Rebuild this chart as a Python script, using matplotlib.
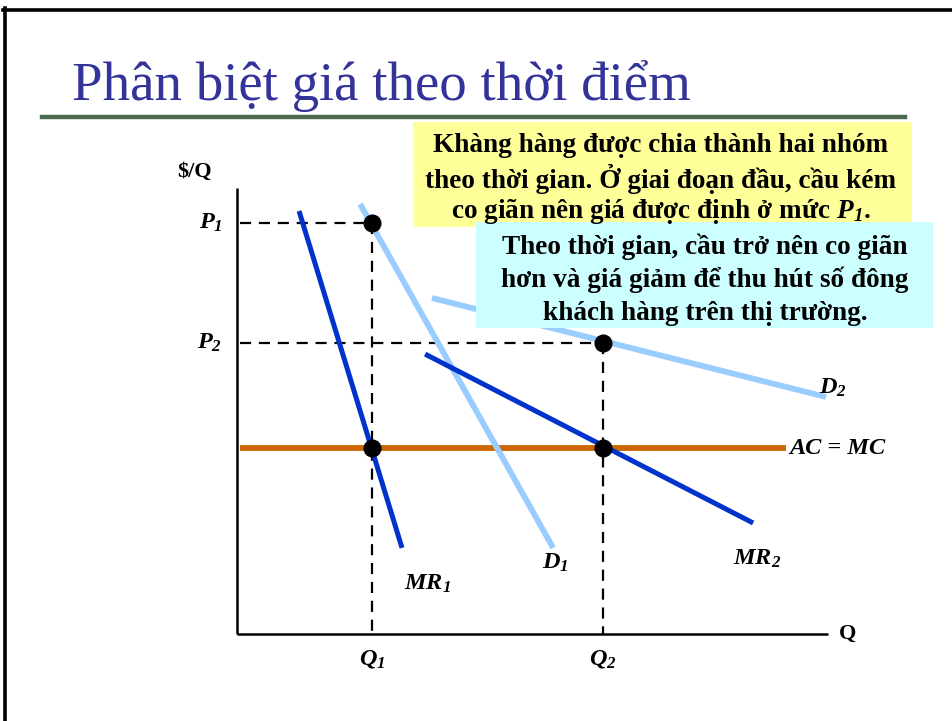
import matplotlib.pyplot as plt
from matplotlib.lines import Line2D
from matplotlib.patches import Rectangle

plt.rcParams['font.family'] = ['Liberation Serif', 'DejaVu Serif']
plt.rcParams['mathtext.fontset'] = 'custom'
plt.rcParams['mathtext.rm'] = 'Liberation Serif:bold:italic'
plt.rcParams['mathtext.it'] = 'Liberation Serif:bold:italic'
plt.rcParams['mathtext.bf'] = 'Liberation Serif:bold:italic'

# quantities and prices
Q1, Q2 = 4.1, 11.1
P1, P2 = 13.7, 9.7
MC = 6.2

# demand / marginal revenue segments (x endpoints, y endpoints)
D1_x, D1_y = [3.73, 9.58], [14.33, 2.87]
MR1_x, MR1_y = [1.88, 5.0], [14.1, 2.87]
D2_x, D2_y = [5.91, 17.85], [11.2, 7.9]
MR2_x, MR2_y = [5.70, 15.64], [9.33, 3.7]
MC_x = [0.09, 16.64]

X_END, Y_TOP = 17.9, 14.87

TITLE = "Phân biệt giá theo thời điểm"
BOX1 = ["Khàng hàng được chia thành hai nhóm",
        "theo thời gian. Ở giai đoạn đầu, cầu kém",
        "co giãn nên giá được định ở mức $P_1$."]
BOX2 = ["Theo thời gian, cầu trở nên co giãn",
        "hơn và giá giảm để thu hút số đông",
        "khách hàng trên thị trường."]

W, H = 953, 721
fig = plt.figure(figsize=(W / 100, H / 100), dpi=100)
fig.patch.set_facecolor('white')

def fx(px):
    return px / W

def fy(py):
    return 1 - py / H

# slide frame
fig.add_artist(Line2D([fx(3), fx(953)], [fy(9.5), fy(9.5)], color='black', lw=2.6))
fig.add_artist(Line2D([fx(5.5), fx(5.5)], [fy(8), fy(721)], color='black', lw=2.6))

# title and rule
fig.text(fx(72), fy(100), TITLE, fontsize=39.5, color='#333399', ha='left', va='baseline')
fig.add_artist(Line2D([fx(42), fx(905)], [fy(117), fy(117)], color='#4A6B50', lw=3.2))

# chart axes
ax = fig.add_axes([fx(237), fy(634), (W - 237) / W, 634 / H])
ax.set_xlim(0, (W - 237) / 33.0)
ax.set_ylim(0, 634 / 30.0)
ax.axis('off')

ax.plot([0, 0], [0, Y_TOP], color='black', lw=1.8, clip_on=False, solid_capstyle='butt')
ax.plot([0, X_END], [0, 0], color='black', lw=1.8, clip_on=False, solid_capstyle='butt')

dash = dict(color='black', lw=1.6, dashes=(5, 3.5), zorder=1)
ax.plot([0.09, Q1], [P1, P1], **dash)
ax.plot([Q1, Q1], [P1, 0], **dash)
ax.plot([0.09, Q2], [P2, P2], **dash)
ax.plot([Q2, Q2], [P2, 0], **dash)

ax.plot(MC_x, [MC, MC], color='#CC6600', lw=4.2, solid_capstyle='butt', zorder=2)
ax.plot(D1_x, D1_y, color='#99CCFF', lw=4.2, solid_capstyle='butt', zorder=3)
ax.plot(D2_x, D2_y, color='#99CCFF', lw=4.2, solid_capstyle='butt', zorder=3)
ax.plot(MR1_x, MR1_y, color='#0033CC', lw=3.6, solid_capstyle='butt', zorder=4)
ax.plot(MR2_x, MR2_y, color='#0033CC', lw=3.6, solid_capstyle='butt', zorder=4)

ax.plot([Q1, Q1, Q2, Q2], [P1, MC, P2, MC], 'o', color='black', ms=12, zorder=5)

lab = dict(fontsize=17.5, fontweight='bold', fontstyle='italic')
ax.text(-0.45, P1, '$P_1$', ha='right', va='center', **lab)
ax.text(-0.45, P2, '$P_2$', ha='right', va='center', **lab)
ax.text(Q1, -0.85, '$Q_1$', ha='center', va='center', **lab)
ax.text(Q2, -0.85, '$Q_2$', ha='center', va='center', **lab)
ax.text(-1.3, Y_TOP + 0.55, r'\$/Q', ha='center', va='center', fontsize=16, fontweight='bold')
ax.text(X_END + 0.35, 0, 'Q', ha='left', va='center', fontsize=16, fontweight='bold')
ax.text(MR1_x[1] + 0.05, MR1_y[1] - 1.2, '$MR_1$', ha='left', va='center', **lab)
ax.text(D1_x[1] - 0.35, D1_y[1] - 0.5, '$D_1$', ha='left', va='center', **lab)
ax.text(MR2_x[1] - 0.6, MR2_y[1] - 1.2, '$MR_2$', ha='left', va='center', **lab)
ax.text(D2_x[1] - 0.2, D2_y[1] + 0.3, '$D_2$', ha='left', va='center', **lab)
ax.text(MC_x[1] + 0.1, MC, 'AC = MC', ha='left', va='center', **lab)

# callout boxes
fig.add_artist(Rectangle((fx(413), fy(227)), (912 - 413) / W, (227 - 122) / H,
                         facecolor='#FFFF99', edgecolor='none', zorder=6))
fig.add_artist(Rectangle((fx(476), fy(328)), (933 - 476) / W, (328 - 222) / H,
                         facecolor='#CCFFFF', edgecolor='none', zorder=7))

for i, line in enumerate(BOX1):
    fig.text(fx(661), fy(146 + 33 * i), line, ha='center', va='center',
             fontsize=19.6, fontweight='bold', zorder=8)
for i, line in enumerate(BOX2):
    fig.text(fx(705), fy(247 + 33 * i), line, ha='center', va='center',
             fontsize=19.6, fontweight='bold', zorder=8)

fig.savefig('out.png', dpi=100)
